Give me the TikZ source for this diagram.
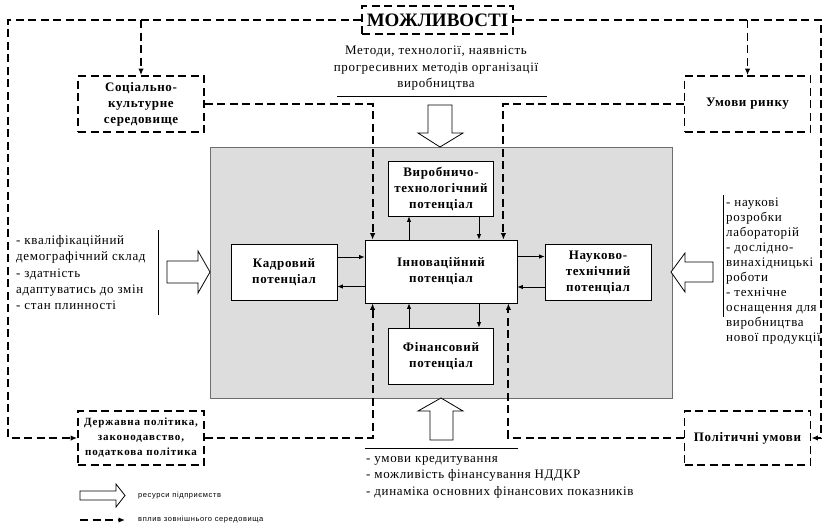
\documentclass[tikz,border=0pt]{standalone}
\usepackage{fontspec}
\setmainfont{Liberation Serif}
\newfontfamily\legfont[LetterSpace=8]{Liberation Sans}
\newfontfamily\spserif[LetterSpace=5]{Liberation Serif}
\newfontfamily\spserifwide[LetterSpace=8]{Liberation Serif}
\usetikzlibrary{arrows.meta,calc}
\definecolor{areafill}{RGB}{221,221,221}
\definecolor{areadraw}{RGB}{110,110,110}
\begin{document}
\begin{tikzpicture}[x=1pt,y=-1pt,
  solidbox/.style={draw=black,line width=0.8pt,fill=white,inner sep=0pt,align=center,font=\spserif\fontsize{13}{16}\selectfont\bfseries},
  dashbox/.style={draw=black,line width=1.9pt,dash pattern=on 8pt off 4.5pt,fill=white,inner sep=0pt,align=center,font=\spserif\fontsize{13}{16}\selectfont\bfseries},
  dline/.style={line width=1.9pt,dash pattern=on 8pt off 4.5pt,-{Latex[length=6.5pt,width=5.5pt]}},
  sarr/.style={line width=0.8pt,-{Latex[length=5.5pt,width=4.5pt]}},
  hollow/.style={draw=black,line width=0.8pt,fill=white,line join=miter},
  txt/.style={inner sep=0pt,font=\spserif\fontsize{13}{16.4}\selectfont},
  legtxt/.style={inner sep=0pt,anchor=west,font=\legfont\fontsize{7.5}{9}\selectfont},
]
\useasboundingbox (0,0) rectangle (824,528);
\fill[white] (0,0) rectangle (824,528);

% gray area
\node[draw=areadraw,fill=areafill,line width=0.8pt,minimum width=462,minimum height=251,inner sep=0pt] (area) at (441,272.5) {};

% external boxes
\node[dashbox,minimum width=151,minimum height=28,font=\fontsize{19}{20}\selectfont\bfseries] (mozh) at (437.5,20) {МОЖЛИВОСТІ};
\node[dashbox,minimum width=126,minimum height=56] (soc) at (141,104) {Соціально-\\культурне\\середовище};
\node[dashbox,minimum width=126,minimum height=56] (umovy) at (747.5,104) {Умови ринку};
\node[dashbox,minimum width=126,minimum height=54,font=\spserifwide\fontsize{11}{15}\selectfont\bfseries] (derzh) at (141,438) {Державна політика,\\законодавство,\\податкова політика};
\node[dashbox,minimum width=126,minimum height=54] (polit) at (747.5,438) {Політичні умови};

% inner boxes
\node[solidbox,minimum width=105,minimum height=55] (vyr) at (441,188.5) {Виробничо-\\технологічний\\потенціал};
\node[solidbox,minimum width=152,minimum height=63] (inn) at (441,271.5) {Інноваційний\\потенціал};
\node[solidbox,minimum width=106,minimum height=56] (kadr) at (284,272) {Кадровий\\потенціал};
\node[solidbox,minimum width=106,minimum height=56] (nauk) at (598,272) {Науково-\\технічний\\потенціал};
\node[solidbox,minimum width=105,minimum height=56] (fin) at (441,356) {Фінансовий\\потенціал};

% solid arrows
\draw[sarr] ([xshift=-32]inn.north) -- ([xshift=-32]inn.north |- vyr.south);
\draw[sarr] ([xshift=38]vyr.south) -- ([xshift=38]vyr.south |- inn.north);
\draw[sarr] ([xshift=-32]fin.north) -- ([xshift=-32]fin.north |- inn.south);
\draw[sarr] ([xshift=38]inn.south) -- ([xshift=38]inn.south |- fin.north);
\draw[sarr] ([yshift=15]kadr.east) -- ([yshift=15]kadr.east -| inn.west);
\draw[sarr] ([yshift=-15]inn.west) -- ([yshift=-15]inn.west -| kadr.east);
\draw[sarr] ([yshift=15]inn.east) -- ([yshift=15]inn.east -| nauk.west);
\draw[sarr] ([yshift=-15]nauk.west) -- ([yshift=-15]nauk.west -| inn.east);

% dashed connectors
\coordinate (L) at (8,20);
\coordinate (R) at (821,20);
\draw[dline] (mozh.west) -- (L) |- (derzh.west);
\draw[dline] (mozh.east) -- (R) |- (polit.east);
\draw[dline] (soc.north |- mozh.west) -- (soc.north);
\draw[dline] (umovy.north |- mozh.east) -- (umovy.north);
\draw[dline] (soc.east) -| ([xshift=8]inn.north west);
\draw[dline] (umovy.west) -| ([xshift=-14]inn.north east);
\draw[dline] (derzh.east) -| ([xshift=8]inn.south west);
\draw[dline] (polit.west) -| ([xshift=-9]inn.south east);

% hollow resource arrows
\draw[hollow] (428,105) -- (452,105) -- (452,133) -- (463,133) -- (440,147) -- (418,133) -- (428,133) -- cycle;
\draw[hollow] (430,440) -- (453,440) -- (453,411) -- (463,411) -- (441,398) -- (418,411) -- (430,411) -- cycle;
\draw[hollow] (167,261) -- (198,261) -- (198,251) -- (210,272) -- (198,293) -- (198,283) -- (167,283) -- cycle;
\draw[hollow] (713,262) -- (685,262) -- (685,253) -- (671,272) -- (685,292) -- (685,282) -- (713,282) -- cycle;

% separator lines
\draw[line width=0.8pt] (337,96) -- (547,96);
\draw[line width=0.8pt] (365,448) -- (518,448);
\draw[line width=0.8pt] (158,230) -- (158,315);
\draw[line width=0.8pt] (723,195) -- (723,317);

% texts
\node[txt,align=center,anchor=north] (toptxt) at (436,46) {Методи, технології, наявність\\прогресивних методів організації\\виробництва};
\node[txt,align=left,anchor=north west] (lefttxt) at (16,235) {- кваліфікаційний\\демографічний склад\\- здатність\\адаптуватись до змін\\- стан плинності};
\node[txt,align=left,anchor=north west,font=\spserif\fontsize{13}{15}\selectfont] (righttxt) at (726,198) {- наукові\\розробки\\лабораторій\\- дослідно-\\винахідницькі\\роботи\\- технічне\\оснащення для\\виробництва\\нової продукції};
\node[txt,align=left,anchor=north west] (bottxt) at (366,456) {- умови кредитування\\- можливість фінансування НДДКР\\- динаміка основних фінансових показників};

% legend
\draw[hollow] (80,491) -- (116,491) -- (116,484) -- (125,495.5) -- (116,507) -- (116,500) -- (80,500) -- cycle;
\node[legtxt] (leg1) at (138,496) {ресурси підприємств};
\coordinate (lg1) at (80,520);
\coordinate (lg2) at (125,520);
\draw[dline,line width=1.5pt] (lg1) -- (lg2);
\node[legtxt] (leg2) at (138,520) {вплив зовнішнього середовища};
\end{tikzpicture}
\end{document}
